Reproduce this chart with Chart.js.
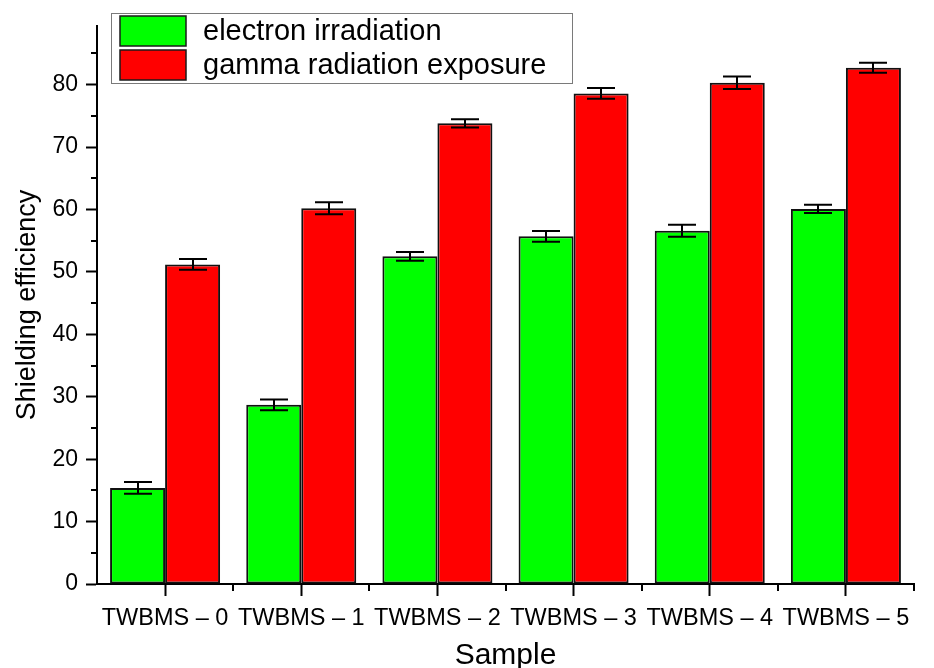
<!DOCTYPE html>
<html>
<head>
<meta charset="utf-8">
<script src="https://cdn.jsdelivr.net/npm/chart.js@4/dist/chart.umd.min.js"></script>
<style>
  html, body { margin: 0; padding: 0; background: #fff; }
  #wrap { width: 934px; height: 668px; position: relative; }
</style>
</head>
<body>
<div id="wrap"><canvas id="shielding"></canvas></div>
<script>
// Samples and measured shielding efficiency (mean and error)
const samples = ['TWBMS \u2013 0', 'TWBMS \u2013 1', 'TWBMS \u2013 2', 'TWBMS \u2013 3', 'TWBMS \u2013 4', 'TWBMS \u2013 5'];
const electron = [15.4, 28.7, 52.5, 55.7, 56.6, 60.1];
const electronErr = [0.95, 0.85, 0.7, 0.85, 0.95, 0.65];
const gamma = [51.2, 60.2, 73.8, 78.6, 80.3, 82.7];
const gammaErr = [0.85, 0.95, 0.65, 0.85, 1.0, 0.8];
const yTicks = [0, 10, 20, 30, 40, 50, 60, 70, 80];

const FONT = '"Liberation Sans", Arial, sans-serif';

// error bars, minor ticks and the boxed legend
const extrasPlugin = {
    id: 'extras',
    afterDatasetsDraw(chart) {
        const ctx = chart.ctx;
        const y = chart.scales.y;
        const errs = [electronErr, gammaErr];
        ctx.save();
        ctx.strokeStyle = '#000';
        ctx.lineWidth = 2;
        chart.data.datasets.forEach((ds, di) => {
            const meta = chart.getDatasetMeta(di);
            meta.data.forEach((bar, i) => {
                const v = ds.data[i];
                const e = errs[di][i];
                const top = y.getPixelForValue(v + e);
                const bot = y.getPixelForValue(v - e);
                const cx = Math.round(bar.x);
                ctx.beginPath();
                ctx.moveTo(cx, top);
                ctx.lineTo(cx, bot);
                ctx.moveTo(cx - 14, top);
                ctx.lineTo(cx + 14, top);
                ctx.moveTo(cx - 14, bot);
                ctx.lineTo(cx + 14, bot);
                ctx.stroke();
            });
        });
        ctx.restore();
    },
    afterDraw(chart) {
        const ctx = chart.ctx;
        const x = chart.scales.x;
        const y = chart.scales.y;
        const area = chart.chartArea;
        ctx.save();
        ctx.strokeStyle = '#000';
        ctx.lineWidth = 2;
        ctx.beginPath();
        // minor y ticks between the labelled ones
        for (let v = 5; v < y.max; v += 10) {
            const py = Math.round(y.getPixelForValue(v));
            ctx.moveTo(area.left - 6, py);
            ctx.lineTo(area.left, py);
        }
        // minor x ticks at the category boundaries
        for (let i = 0; i < samples.length; i++) {
            const px = Math.round(x.getPixelForValue(i + 0.5));
            ctx.moveTo(px, area.bottom);
            ctx.lineTo(px, area.bottom + 7);
        }
        ctx.stroke();

        // legend
        const lx = 111, ly = 13, lw = 461, lh = 70;
        ctx.lineWidth = 1;
        ctx.strokeStyle = '#7a7a7a';
        ctx.strokeRect(lx + 0.5, ly + 0.5, lw, lh);
        ctx.font = '29px ' + FONT;
        ctx.textBaseline = 'middle';
        chart.data.datasets.forEach((ds, i) => {
            const sy = 16 + i * 34;
            ctx.fillStyle = ds.backgroundColor;
            ctx.fillRect(120, sy, 66, 30);
            ctx.strokeStyle = '#1a1a1a';
            ctx.lineWidth = 1.5;
            ctx.strokeRect(120, sy, 66, 30);
            ctx.fillStyle = '#000';
            ctx.fillText(ds.label, 203, sy + 16);
        });
        ctx.restore();
    }
};

new Chart(document.getElementById('shielding'), {
    type: 'bar',
    data: {
        labels: samples,
        datasets: [
            {
                label: 'electron irradiation',
                data: electron,
                backgroundColor: '#00ff00',
                borderColor: '#111',
                borderWidth: 2,
                borderSkipped: false
            },
            {
                label: 'gamma radiation exposure',
                data: gamma,
                backgroundColor: '#ff0000',
                borderColor: '#111',
                borderWidth: 2,
                borderSkipped: false
            }
        ]
    },
    options: {
        responsive: true,
        maintainAspectRatio: false,
        animation: false,
        categoryPercentage: 0.808,
        barPercentage: 1.0,
        layout: { padding: { top: 26, right: 20, left: 0, bottom: 0 } },
        plugins: {
            legend: { display: false },
            tooltip: { enabled: false }
        },
        scales: {
            x: {
                grid: {
                    display: true,
                    offset: false,
                    drawOnChartArea: false,
                    drawTicks: true,
                    tickLength: 12,
                    tickWidth: 2,
                    tickColor: '#000'
                },
                border: { color: '#000', width: 2 },
                ticks: {
                    color: '#000',
                    padding: 8,
                    maxRotation: 0,
                    autoSkip: false,
                    font: { family: FONT, size: 23.5 }
                },
                title: {
                    display: true,
                    text: 'Sample',
                    color: '#000',
                    padding: { top: 0, bottom: 0 },
                    font: { family: FONT, size: 30, lineHeight: 0.8 }
                },
                afterFit(scale) { scale.height = 84; }
            },
            y: {
                min: 0,
                max: 89.4,
                grid: {
                    display: true,
                    drawOnChartArea: false,
                    drawTicks: true,
                    tickLength: 11,
                    tickWidth: 2,
                    tickColor: '#000'
                },
                border: { color: '#000', width: 2 },
                afterBuildTicks(scale) {
                    scale.ticks = yTicks.map(v => ({ value: v }));
                },
                ticks: {
                    color: '#000',
                    padding: 8,
                    font: { family: FONT, size: 23 }
                },
                title: {
                    display: true,
                    text: 'Shielding efficiency',
                    color: '#000',
                    padding: { top: 14, bottom: 0 },
                    font: { family: FONT, size: 27, lineHeight: 1 }
                },
                afterFit(scale) { scale.width = 97; }
            }
        }
    },
    plugins: [extrasPlugin]
});
</script>
</body>
</html>
